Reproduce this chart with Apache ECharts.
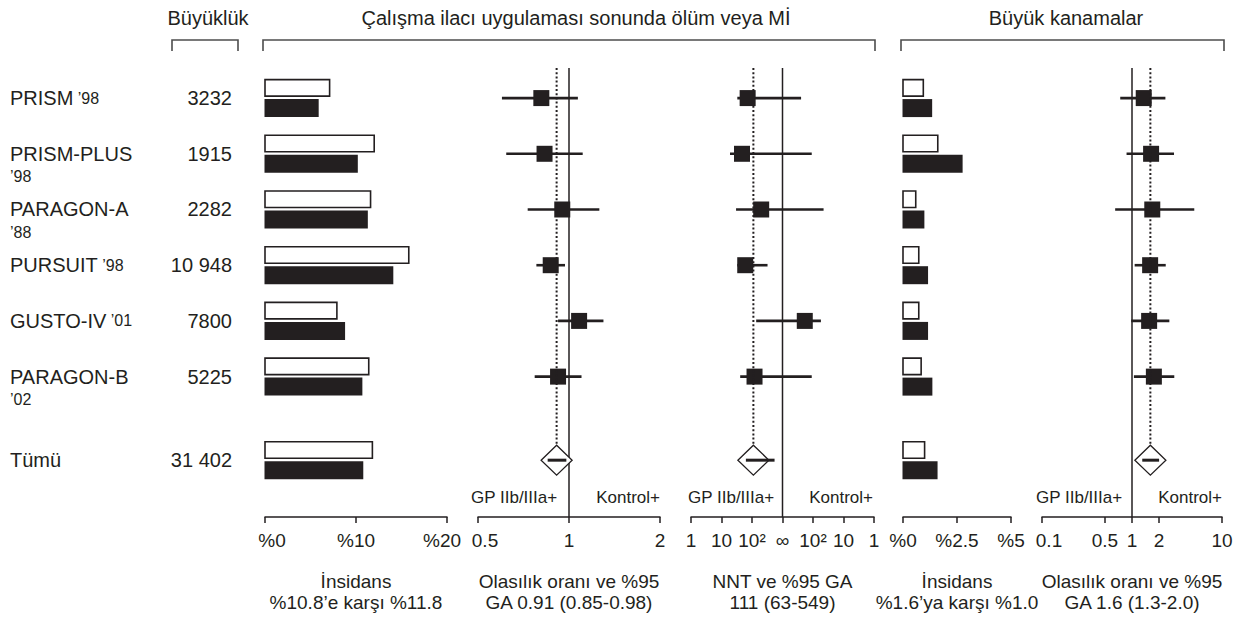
<!DOCTYPE html>
<html>
<head>
<meta charset="utf-8">
<script src="https://cdn.jsdelivr.net/npm/echarts@6/dist/echarts.min.js"></script>
<style>
  html, body { margin: 0; padding: 0; background: #ffffff; }
  #chart { width: 1253px; height: 618px; }
</style>
</head>
<body>
<div id="chart"></div>
<script>
// ---- Trial data ----------------------------------------------------------
const studyLabels = ['PRISM ’98', 'PRISM-PLUS\n’98', 'PARAGON-A\n’88', 'PURSUIT ’98', 'GUSTO-IV ’01', 'PARAGON-B\n’02'];
const totalLabel = 'Tümü';
const sampleSizes = [3232, 1915, 2282, 10948, 7800, 5225];
const totalSize = 31402;

// Death or MI at end of study drug: incidence (%), control vs GP IIb/IIIa
const deathControlInc = [7.1, 12.0, 11.6, 15.8, 7.9, 11.4];
const deathGpInc      = [5.9, 10.2, 11.3, 14.1, 8.8, 10.7];
const deathTotalInc   = [11.8, 10.8];          // control, GP IIb/IIIa

// Death or MI: odds ratio with 95% CI
const deathOrLow  = [0.60, 0.62, 0.73, 0.78, 0.92, 0.77];
const deathOrEst  = [0.81, 0.83, 0.95, 0.87, 1.08, 0.92];
const deathOrHigh = [1.07, 1.11, 1.26, 0.97, 1.30, 1.10];
const deathOrTotal = [0.85, 0.91, 0.98];       // low, estimate, high

// Number needed to treat with 95% CI (negative = number needed to harm)
const nntLow  = [33, 19, 30, 33, 137, 41];
const nntEst  = [72, 47, 200, 60, -186, 121];
const nntHigh = [-246, -110, -45, 323, -55, -110];
const nntTotal = [63, 111, 549];

// Major bleeding: incidence (%), control vs GP IIb/IIIa
const bleedControlInc = [0.94, 1.61, 0.59, 0.73, 0.73, 0.84];
const bleedGpInc      = [1.35, 2.76, 0.99, 1.16, 1.16, 1.36];
const bleedTotalInc   = [1.0, 1.6];

// Major bleeding: odds ratio with 95% CI
const bleedOrLow  = [0.74, 0.87, 0.65, 1.07, 0.98, 1.05];
const bleedOrEst  = [1.35, 1.63, 1.68, 1.59, 1.55, 1.75];
const bleedOrHigh = [2.35, 2.93, 4.92, 2.37, 2.60, 2.95];
const bleedOrTotal = [1.3, 1.6, 2.0];

// Axis tick values
const incTicks = [0, 10, 20];
const or1Ticks = [0.5, 1, 2];
const nntTicks = [-3, -2, -1, 0, 1, 2, 3];
const nntTickLabels = ['1', '10', '10²', '∞', '10²', '10', '1'];
const bleedIncTicks = [0, 2.5, 5];
const or2Ticks = [0.1, 0.5, 1, 2, 10];

// ---- Layout / style ------------------------------------------------------
const INK = '#231f20';
const FONT = "'Liberation Sans', Arial, Helvetica, sans-serif";
const Y_MIN = -0.54, Y_MAX = 7.52;
const GRID_TOP = 68, GRID_BOTTOM = 101;
const SQ = 16;
const TICK_FS = 19, NAME_FS = 19, ROW_FS = 20, YEAR_FS = 16, HEAD_FS = 20, DIR_FS = 17;

const rows = studyLabels.map((_, i) => i);
const totalRow = studyLabels.length + 0.5;

// NNT scale: benefit side runs 1 .. 10 .. 100 .. ∞, harm side mirrors it
const nntPos = n => n > 0 ? Math.log10(n) - 3 : 3 - Math.log10(-n);

const fmtSize = n => n >= 10000 ? String(n).replace(/(\d)(?=(\d{3})$)/, '$1 ') : String(n);

const chart = echarts.init(document.getElementById('chart'), null, { renderer: 'svg' });

const grids = [
  { left: 265, width: 182 },
  { left: 478, width: 182 },
  { left: 691, width: 183 },
  { left: 903, width: 108 },
  { left: 1042, width: 180 }
].map(g => Object.assign({ top: GRID_TOP, bottom: GRID_BOTTOM, containLabel: false }, g));

function baseX(gridIndex, name, extra) {
  return Object.assign({
    gridIndex,
    position: 'bottom',
    name,
    nameLocation: 'middle',
    nameGap: 54,
    nameTextStyle: { color: INK, fontSize: NAME_FS, lineHeight: 21, fontFamily: FONT },
    axisLine: { show: true, onZero: false, lineStyle: { color: INK, width: 1.5 } },
    splitLine: { show: false },
    silent: true
  }, extra);
}
const tickStyle = values => ({ show: true, length: 6, lineStyle: { color: INK, width: 1.5 }, customValues: values });
// end labels are nudged inward a little so neighbouring panels do not collide
const nudgeRich = {
  n: { fontSize: TICK_FS, fontFamily: FONT, color: INK },
  l: { fontSize: TICK_FS, fontFamily: FONT, color: INK, padding: [0, 0, 0, 14] },
  r: { fontSize: TICK_FS, fontFamily: FONT, color: INK, padding: [0, 10, 0, 0] }
};
const near = (a, b) => Math.abs(a - b) < 1e-6 * Math.max(1, Math.abs(b));
const labelStyle = (values, formatter, first, last) => ({
  show: true, color: INK, fontSize: TICK_FS, fontFamily: FONT, margin: 14,
  customValues: values, showMinLabel: true, showMaxLabel: true, rich: nudgeRich,
  formatter: v => {
    const t = formatter(v);
    let key = 'n';
    if (first && near(+v, values[0])) key = first;
    if (last && near(+v, values[values.length - 1])) key = last;
    return '{' + key + '|' + t + '}';
  }
});
const numFmt = v => String(+Number(v).toPrecision(3));

const xAxes = [
  baseX(0, 'İnsidans\n%10.8’e karşı %11.8', {
    type: 'value', min: 0, max: 20, interval: 10,
    axisTick: tickStyle(incTicks), axisLabel: labelStyle(incTicks, v => '%' + v, 'l', 'r')
  }),
  baseX(1, 'Olasılık oranı ve %95\nGA 0.91 (0.85-0.98)', {
    type: 'log', logBase: 2, min: 0.5, max: 2,
    axisTick: tickStyle(or1Ticks), axisLabel: labelStyle(or1Ticks, numFmt, 'l', null)
  }),
  baseX(2, 'NNT ve %95 GA\n111 (63-549)', {
    type: 'value', min: -3, max: 3, interval: 1,
    axisTick: tickStyle(nntTicks),
    axisLabel: labelStyle(nntTicks, v => nntTickLabels[Math.round(v) + 3], null, null)
  }),
  baseX(3, 'İnsidans\n%1.6’ya karşı %1.0', {
    type: 'value', min: 0, max: 5, interval: 2.5,
    axisTick: tickStyle(bleedIncTicks), axisLabel: labelStyle(bleedIncTicks, v => '%' + v, null, null)
  }),
  baseX(4, 'Olasılık oranı ve %95\nGA 1.6 (1.3-2.0)', {
    type: 'log', logBase: 10, min: 0.1, max: 10,
    axisTick: tickStyle(or2Ticks), axisLabel: labelStyle(or2Ticks, numFmt, 'l', null)
  })
];

const yAxes = grids.map((_, i) => ({
  gridIndex: i, type: 'value', min: Y_MIN, max: Y_MAX, inverse: true, show: false
}));

// ---- Render helpers ------------------------------------------------------
function incidenceBars(params, api) {
  const row = api.value(0);
  const base = api.coord([0, row]);
  const xc = api.coord([api.value(1), row])[0];
  const xg = api.coord([api.value(2), row])[0];
  const cy = base[1];
  return {
    type: 'group',
    children: [
      { type: 'rect', shape: { x: base[0], y: cy - 18.5, width: xc - base[0], height: 16.5 },
        style: { fill: '#ffffff', stroke: INK, lineWidth: 1.6 } },
      { type: 'rect', shape: { x: base[0] - 0.5, y: cy + 1, width: xg - base[0] + 0.5, height: 18 },
        style: { fill: INK } }
    ]
  };
}

function forestMark(params, api) {
  const row = api.value(0);
  const lo = api.coord([api.value(1), row]);
  const est = api.coord([api.value(2), row]);
  const hi = api.coord([api.value(3), row]);
  return {
    type: 'group',
    children: [
      { type: 'line', shape: { x1: lo[0], y1: lo[1], x2: hi[0], y2: hi[1] },
        style: { stroke: INK, lineWidth: 2.6 } },
      { type: 'rect', shape: { x: est[0] - SQ / 2, y: est[1] - SQ / 2, width: SQ, height: SQ },
        style: { fill: INK } }
    ]
  };
}

function summaryMark(params, api) {
  const row = api.value(0);
  const lo = api.coord([api.value(1), row]);
  const est = api.coord([api.value(2), row]);
  const hi = api.coord([api.value(3), row]);
  const top = api.coord([api.value(2), Y_MIN]);
  const w = 15.5, h = 15;
  return {
    type: 'group',
    children: [
      { type: 'line', shape: { x1: est[0], y1: top[1], x2: est[0], y2: est[1] - h },
        style: { stroke: INK, lineWidth: 2, lineDash: [2, 2.2] } },
      { type: 'polygon',
        shape: { points: [[est[0] - w, est[1]], [est[0], est[1] - h], [est[0] + w, est[1]], [est[0], est[1] + h]] },
        style: { fill: '#ffffff', stroke: INK, lineWidth: 1.3 } },
      { type: 'line', shape: { x1: lo[0], y1: lo[1], x2: hi[0], y2: hi[1] },
        style: { stroke: INK, lineWidth: 3 } }
    ]
  };
}

function nullLine(gridIndex, x) {
  return {
    type: 'line', xAxisIndex: gridIndex, yAxisIndex: gridIndex,
    data: [[x, Y_MIN], [x, Y_MAX]], symbol: 'none', silent: true,
    lineStyle: { color: INK, width: 1.5 }, z: 1
  };
}

function customSeries(gridIndex, renderItem, data, z) {
  return {
    type: 'custom', xAxisIndex: gridIndex, yAxisIndex: gridIndex,
    renderItem, data, clip: false, silent: true, z: z || 2,
    encode: { x: data[0].length > 3 ? [1, 2, 3] : [1, 2], y: 0 }
  };
}

// Row label column (study name and sample size), positioned on the row scale
function rowLabels(params, api) {
  const row = api.value(0);
  const cy = api.coord([0, row])[1];
  const label = params.dataIndex < studyLabels.length ? studyLabels[params.dataIndex] : totalLabel;
  const size = params.dataIndex < sampleSizes.length ? sampleSizes[params.dataIndex] : totalSize;
  const rich = label.split('\n').map(line =>
    line.replace(/^(.*?)( ?’\d\d)?$/, (m, a, b) => (a ? '{m|' + a + '}' : '') + (b ? '{y|' + b + '}' : ''))
  ).join('\n');
  return {
    type: 'group',
    children: [
      { type: 'text', x: 10, y: cy - 11.5,
        style: { text: rich, fill: INK, font: ROW_FS + 'px ' + FONT, verticalAlign: 'top', align: 'left',
          rich: { m: { fontSize: ROW_FS, fontFamily: FONT, lineHeight: 23, fill: INK },
                  y: { fontSize: YEAR_FS, fontFamily: FONT, lineHeight: 23, fill: INK } } } },
      { type: 'text', x: 232, y: cy,
        style: { text: fmtSize(size), fill: INK, font: ROW_FS + 'px ' + FONT, align: 'right', verticalAlign: 'middle' } }
    ]
  };
}

// ---- Series --------------------------------------------------------------
const deathIncData = rows.map(i => [i, deathControlInc[i], deathGpInc[i]]).concat([[totalRow, deathTotalInc[0], deathTotalInc[1]]]);
const bleedIncData = rows.map(i => [i, bleedControlInc[i], bleedGpInc[i]]).concat([[totalRow, bleedTotalInc[0], bleedTotalInc[1]]]);
const deathOrData = rows.map(i => [i, deathOrLow[i], deathOrEst[i], deathOrHigh[i]]);
const nntData = rows.map(i => [i, nntPos(nntLow[i]), nntPos(nntEst[i]), nntPos(nntHigh[i])]);
const bleedOrData = rows.map(i => [i, bleedOrLow[i], bleedOrEst[i], bleedOrHigh[i]]);

const series = [
  customSeries(0, rowLabels, rows.map(i => [i, 0]).concat([[totalRow, 0]])),
  customSeries(0, incidenceBars, deathIncData),
  nullLine(1, 1),
  customSeries(1, forestMark, deathOrData, 3),
  customSeries(1, summaryMark, [[totalRow].concat(deathOrTotal)], 3),
  nullLine(2, 0),
  customSeries(2, forestMark, nntData, 3),
  customSeries(2, summaryMark, [[totalRow].concat(nntTotal.map(nntPos))], 3),
  customSeries(3, incidenceBars, bleedIncData),
  nullLine(4, 1),
  customSeries(4, forestMark, bleedOrData, 3),
  customSeries(4, summaryMark, [[totalRow].concat(bleedOrTotal)], 3)
];

// ---- Headers, brackets and direction labels -----------------------------
function bracket(x1, x2) {
  return {
    type: 'polyline', silent: true,
    shape: { points: [[x1, 51], [x1, 40], [x2, 40], [x2, 51]] },
    style: { stroke: '#4d4d4d', lineWidth: 1.6, fill: null }
  };
}
function headText(x, text) {
  return { type: 'text', x, y: 18, silent: true,
    style: { text, fill: INK, font: HEAD_FS + 'px ' + FONT, align: 'center', verticalAlign: 'middle' } };
}
function dirText(x, text, align) {
  return { type: 'text', x, y: 497, silent: true,
    style: { text, fill: INK, font: DIR_FS + 'px ' + FONT, align, verticalAlign: 'middle' } };
}

const graphic = [
  headText(208, 'Büyüklük'),
  headText(576, 'Çalışma ilacı uygulaması sonunda ölüm veya Mİ'),
  headText(1066, 'Büyük kanamalar'),
  bracket(172, 238),
  bracket(263, 875),
  bracket(901, 1224),
  dirText(471, 'GP IIb/IIIa+', 'left'),
  dirText(660, 'Kontrol+', 'right'),
  dirText(688, 'GP IIb/IIIa+', 'left'),
  dirText(873, 'Kontrol+', 'right'),
  dirText(1036, 'GP IIb/IIIa+', 'left'),
  dirText(1222, 'Kontrol+', 'right')
];

chart.setOption({
  backgroundColor: '#ffffff',
  animation: false,
  textStyle: { fontFamily: FONT },
  grid: grids,
  xAxis: xAxes,
  yAxis: yAxes,
  series,
  graphic
});
</script>
</body>
</html>
